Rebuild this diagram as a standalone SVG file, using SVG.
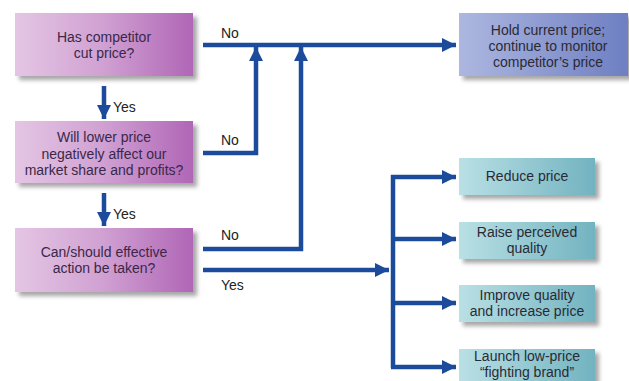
<svg xmlns="http://www.w3.org/2000/svg" width="629" height="381" viewBox="0 0 629 381">
<defs>
<linearGradient id="gPurple" x1="0" y1="0" x2="1" y2="0">
<stop offset="0" stop-color="#e4c6e4"/>
<stop offset="0.5" stop-color="#d0a0d2"/>
<stop offset="1" stop-color="#b066b6"/>
</linearGradient>
<linearGradient id="gBlue" x1="0" y1="0" x2="1" y2="0">
<stop offset="0" stop-color="#adb7e0"/>
<stop offset="1" stop-color="#6e7fc2"/>
</linearGradient>
<linearGradient id="gTeal" x1="0" y1="0" x2="1" y2="0">
<stop offset="0" stop-color="#b9e0e5"/>
<stop offset="1" stop-color="#72b3c0"/>
</linearGradient>
<filter id="sh" x="-10%" y="-10%" width="125%" height="140%">
<feDropShadow dx="4" dy="4" stdDeviation="2" flood-color="#000" flood-opacity="0.35"/>
</filter>
<marker id="ah" markerUnits="userSpaceOnUse" markerWidth="16" markerHeight="16" viewBox="0 0 16 16" refX="14" refY="8" orient="auto">
<path d="M0,1 L14,8 L0,15 Z" fill="#1c4b9c"/>
</marker>
</defs>
<style>
.q text{font-family:"Liberation Sans",Arial,sans-serif;font-size:14px;fill:#3a2848;text-anchor:middle}
.o text{font-family:"Liberation Sans",Arial,sans-serif;font-size:14px;fill:#2a2a35;text-anchor:middle}
.lbl{font-family:"Liberation Sans",Arial,sans-serif;font-size:14px;fill:#222}
.c path{fill:none;stroke:#1c4b9c;stroke-width:4.5}
</style>
<g id="n1" class="q"><rect x="15" y="13" width="178" height="63" fill="url(#gPurple)" filter="url(#sh)"/><text x="104" y="42">Has competitor</text><text x="104" y="58">cut price?</text></g>
<g id="n2" class="q"><rect x="15" y="121" width="178" height="62" fill="url(#gPurple)" filter="url(#sh)"/><text x="104" y="142">Will lower price</text><text x="104" y="159">negatively affect our</text><text x="104" y="175">market share and profits?</text></g>
<g id="n3" class="q"><rect x="15" y="228" width="178" height="64" fill="url(#gPurple)" filter="url(#sh)"/><text x="104" y="257">Can/should effective</text><text x="104" y="273">action be taken?</text></g>
<g id="n4" class="o"><rect x="459" y="13" width="169" height="63" fill="url(#gBlue)" filter="url(#sh)"/><text x="548" y="35">Hold current price;</text><text x="548" y="51">continue to monitor</text><text x="548" y="67">competitor’s price</text></g>
<g id="n5" class="o"><rect x="459" y="158" width="136" height="37" fill="url(#gTeal)" filter="url(#sh)"/><text x="527" y="181">Reduce price</text></g>
<g id="n6" class="o"><rect x="459" y="222" width="136" height="37" fill="url(#gTeal)" filter="url(#sh)"/><text x="527" y="237">Raise perceived</text><text x="527" y="253">quality</text></g>
<g id="n7" class="o"><rect x="459" y="285" width="136" height="37" fill="url(#gTeal)" filter="url(#sh)"/><text x="527" y="300">Improve quality</text><text x="527" y="316">and increase price</text></g>
<g id="n8" class="o"><rect x="459" y="349" width="136" height="40" fill="url(#gTeal)" filter="url(#sh)"/><text x="527" y="361">Launch low-price</text><text x="527" y="377">“fighting brand”</text></g>
<g id="connectors" class="c">
<path d="M104,86 V119" marker-end="url(#ah)"/>
<path d="M104,193 V226" marker-end="url(#ah)"/>
<path d="M203,45 H456" marker-end="url(#ah)"/>
<path d="M203,153 H256 V47" marker-end="url(#ah)"/>
<path d="M203,249 H301 V47" marker-end="url(#ah)"/>
<path d="M203,270 H389" marker-end="url(#ah)"/>
<path d="M393,175 V368"/>
<path d="M391,177 H456" marker-end="url(#ah)"/>
<path d="M391,239 H456" marker-end="url(#ah)"/>
<path d="M391,303 H456" marker-end="url(#ah)"/>
<path d="M391,367 H456" marker-end="url(#ah)"/>
</g>
<g id="labels">
<text class="lbl" x="113" y="112">Yes</text>
<text class="lbl" x="113" y="219">Yes</text>
<text class="lbl" x="221" y="38">No</text>
<text class="lbl" x="221" y="145">No</text>
<text class="lbl" x="221" y="240">No</text>
<text class="lbl" x="221" y="290">Yes</text>
</g>
</svg>
